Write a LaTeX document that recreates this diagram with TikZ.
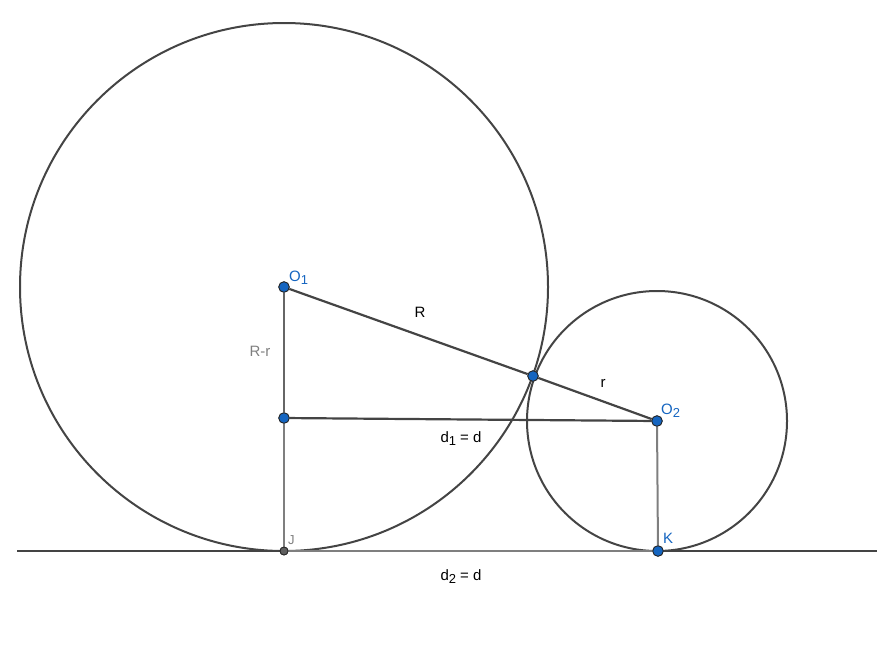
\documentclass[tikz,border=0pt]{standalone}
\usepackage{fontspec}
\setmainfont{Liberation Sans}
\definecolor{dk}{HTML}{444444}
\definecolor{gy}{HTML}{7F7F7F}
\definecolor{mg}{HTML}{666666}
\definecolor{pblue}{HTML}{1565C0}
\definecolor{lblue}{HTML}{1565C0}
\newcommand{\sbs}[1]{\raisebox{-0.45ex}{\fontsize{13}{15}\selectfont #1}}
\begin{document}
\begin{tikzpicture}[x=1pt,y=-1pt,
  curve/.style={draw=dk,line width=2pt},
  seg/.style={draw=dk,line width=2.2pt},
  gseg/.style={draw=gy,line width=2pt},
  mseg/.style={draw=mg,line width=2pt},
  pt/.style={circle,fill=pblue,draw=black!85,line width=0.8pt,inner sep=0pt,minimum size=10.5pt},
  gpt/.style={circle,fill=gy!75!black,draw=black!85,line width=0.8pt,inner sep=0pt,minimum size=8pt},
  lbl/.style={font=\fontsize{15}{17}\selectfont,inner sep=0pt},
  blbl/.style={lbl,text=lblue}]
\useasboundingbox (0,0) rectangle (877,662);
\coordinate (L0) at (17,551);
\coordinate (L1) at (877,551);
\node[pt] (O1) at (284,287) {};
\node[pt] (O2) at (657,421) {};
\node[pt] (T) at (533,376) {};
\node[pt] (P) at (284,418) {};
\node[gpt] (J) at (284,551) {};
\node[pt] (K) at (658,551) {};
\draw[curve] (284,287) circle[radius=264];
\draw[curve] (657,421) circle[radius=130];
\draw[seg] (L0) -- (L1);
\draw[gseg] (J.center) -- (K.center);
\draw[seg] (O1) -- (T);
\draw[seg] (T) -- (O2);
\draw[seg] (P) -- (O2);
\draw[mseg] (O1) -- (P);
\draw[gseg] (P) -- (J);
\draw[gseg] (O2) -- (K);
% redraw points on top
\node[pt] at (O1) {};
\node[pt] at (O2) {};
\node[pt] at (T) {};
\node[pt] at (P) {};
\node[gpt] at (J) {};
\node[pt] at (K) {};
\node[blbl,anchor=base west] (lO1) at (289,281) {O\sbs{1}};
\node[blbl,anchor=base west] (lO2) at (661,414) {O\sbs{2}};
\node[blbl,anchor=base west] (lK) at (663,543) {K};
\node[lbl,text=gy,anchor=base west,font=\fontsize{13}{15}\selectfont] (lJ) at (288,544) {J};
\node[lbl,anchor=base] (lR) at (420,317) {R};
\node[lbl,anchor=base] (lr) at (603,387) {r};
\node[lbl,text=gy,anchor=base] (lRr) at (260,356) {R-r};
\node[lbl,anchor=base] (ld1) at (461,442) {d\sbs{1} = d};
\node[lbl,anchor=base] (ld2) at (461,580) {d\sbs{2} = d};
\end{tikzpicture}
\end{document}
